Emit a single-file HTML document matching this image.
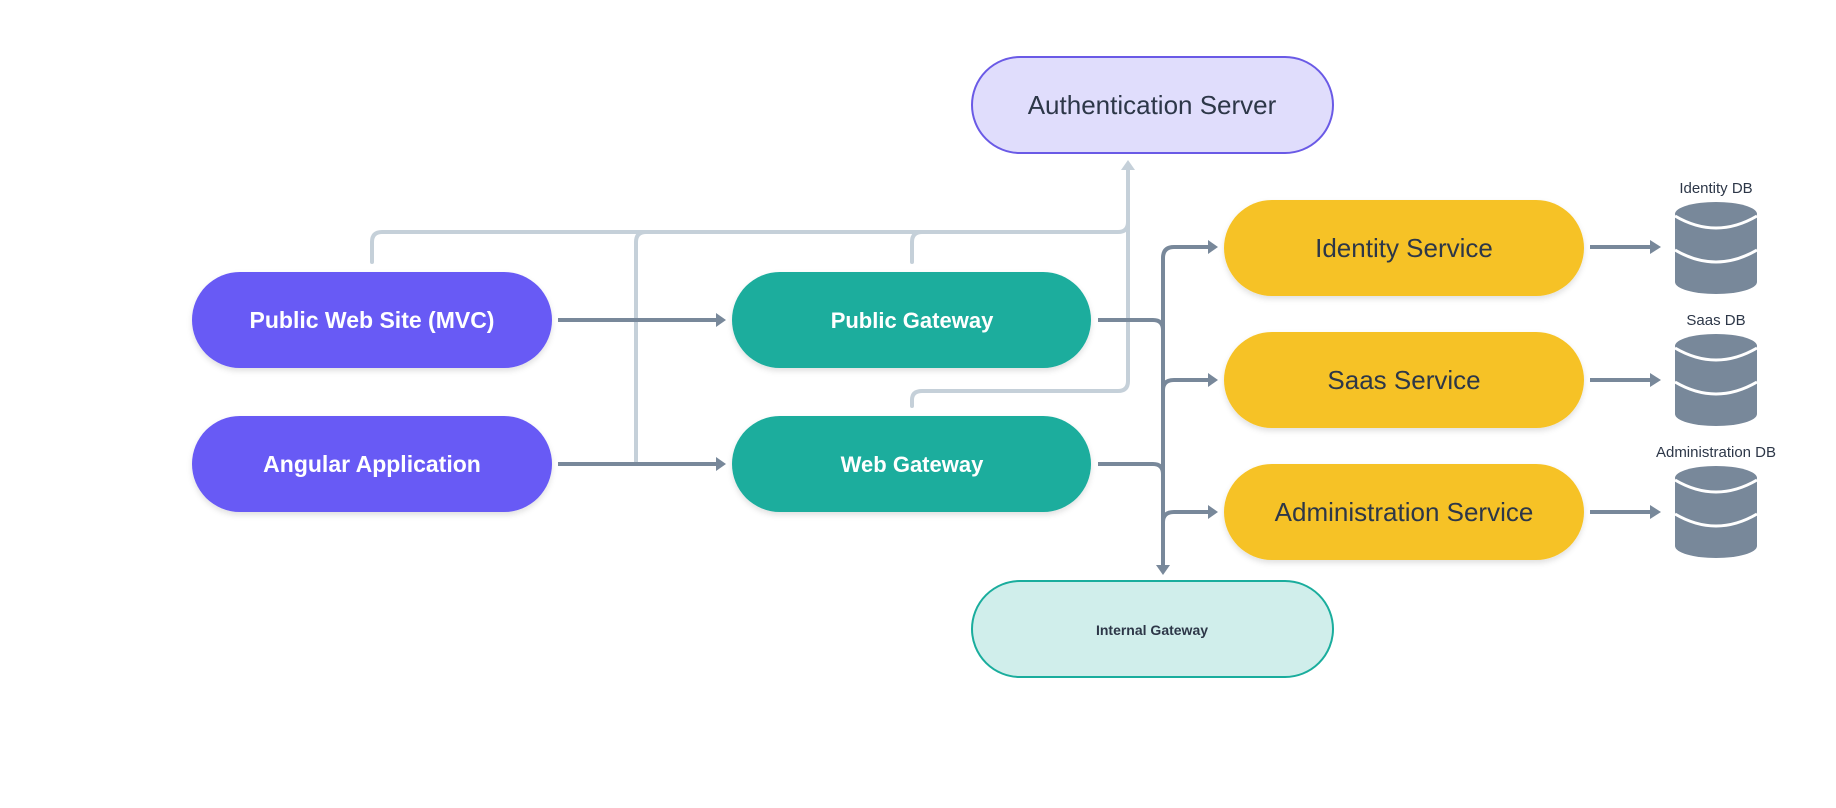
<!DOCTYPE html>
<html><head><meta charset="utf-8"><style>
html,body{margin:0;padding:0;background:#fff;}
svg{display:block;}
text{font-family:"Liberation Sans",sans-serif;}
</style></head><body>
<svg width="1836" height="808" viewBox="0 0 1836 808" xmlns="http://www.w3.org/2000/svg">
<defs>
<filter id="sh" x="-10%" y="-20%" width="120%" height="150%"><feDropShadow dx="0" dy="3" stdDeviation="3" flood-color="#000" flood-opacity="0.12"/></filter>
</defs>
<g fill="none" stroke="#c5d0d9" stroke-width="4" stroke-linecap="round">
<path d="M372 262 V242 Q372 232 382 232 H1118 Q1128 232 1128 222 V166"/>
<path d="M636 464 V242 Q636 232 646 232"/>
<path d="M912 262 V242 Q912 232 922 232"/>
<path d="M912 406 V400 Q912 391 922 391 H1118 Q1128 391 1128 381 V222"/>
</g>
<polygon points="1121,170 1135,170 1128,160" fill="#c5d0d9"/>
<g fill="none" stroke="#78889a" stroke-width="4">
<path d="M558 320 H718"/>
<path d="M558 464 H718"/>
<path d="M1098 320 H1153 Q1163 320 1163 330"/>
<path d="M1098 464 H1153 Q1163 464 1163 474"/>
<path d="M1163 568 V258 Q1163 247 1174 247 H1210"/>
<path d="M1163 390 Q1163 380 1174 380 H1210"/>
<path d="M1163 522 Q1163 512 1174 512 H1210"/>
<path d="M1590 247 H1652"/>
<path d="M1590 380 H1652"/>
<path d="M1590 512 H1652"/>
</g>
<g fill="#78889a">
<polygon points="716,313 726,320 716,327"/>
<polygon points="716,457 726,464 716,471"/>
<polygon points="1208,240 1218,247 1208,254"/>
<polygon points="1208,373 1218,380 1208,387"/>
<polygon points="1208,505 1218,512 1208,519"/>
<polygon points="1650,240 1661,247 1650,254"/>
<polygon points="1650,373 1661,380 1650,387"/>
<polygon points="1650,505 1661,512 1650,519"/>
<polygon points="1156,565 1170,565 1163,575"/>
</g>
<rect x="972" y="57" width="361" height="96" rx="48" fill="#e0ddfc" stroke="#6a5ae6" stroke-width="2"/>
<text x="1152" y="114" font-size="26" fill="#2d3748" text-anchor="middle">Authentication Server</text>
<g filter="url(#sh)">
<rect x="192" y="272" width="360" height="96" rx="48" fill="#675af5"/>
<rect x="192" y="416" width="360" height="96" rx="48" fill="#675af5"/>
<rect x="732" y="272" width="359" height="96" rx="48" fill="#1aad9d"/>
<rect x="732" y="416" width="359" height="96" rx="48" fill="#1aad9d"/>
<rect x="1224" y="200" width="360" height="96" rx="48" fill="#f6c225"/>
<rect x="1224" y="332" width="360" height="96" rx="48" fill="#f6c225"/>
<rect x="1224" y="464" width="360" height="96" rx="48" fill="#f6c225"/>
</g>
<g font-size="23" font-weight="bold" fill="#fff" text-anchor="middle">
<text x="372" y="328">Public Web Site (MVC)</text>
<text x="372" y="472">Angular Application</text>
<text x="912" y="328" font-size="22">Public Gateway</text>
<text x="912" y="472" font-size="22">Web Gateway</text>
</g>
<g font-size="26" fill="#2d3748" text-anchor="middle">
<text x="1404" y="257">Identity Service</text>
<text x="1404" y="389">Saas Service</text>
<text x="1404" y="521">Administration Service</text>
</g>
<rect x="972" y="581" width="361" height="96" rx="48" fill="#d0eeeb" stroke="#1aad9d" stroke-width="2"/>
<text x="1152" y="635" font-size="14" font-weight="bold" fill="#2d3748" text-anchor="middle">Internal Gateway</text>
<g id="db">
<rect x="1675" y="214" width="82" height="68" fill="#78889a"/>
<ellipse cx="1716" cy="282" rx="41" ry="12" fill="#78889a"/>
<ellipse cx="1716" cy="214" rx="41" ry="12" fill="#78889a"/>
<path d="M1675 216 Q1716 240 1757 216" fill="none" stroke="#fff" stroke-width="3"/>
<path d="M1675 250 Q1716 274 1757 250" fill="none" stroke="#fff" stroke-width="3"/>
</g>
<use href="#db" y="132"/>
<use href="#db" y="264"/>
<g font-size="15" fill="#2d3748" text-anchor="middle">
<text x="1716" y="193">Identity DB</text>
<text x="1716" y="325">Saas DB</text>
<text x="1716" y="457">Administration DB</text>
</g>
</svg>
</body></html>
